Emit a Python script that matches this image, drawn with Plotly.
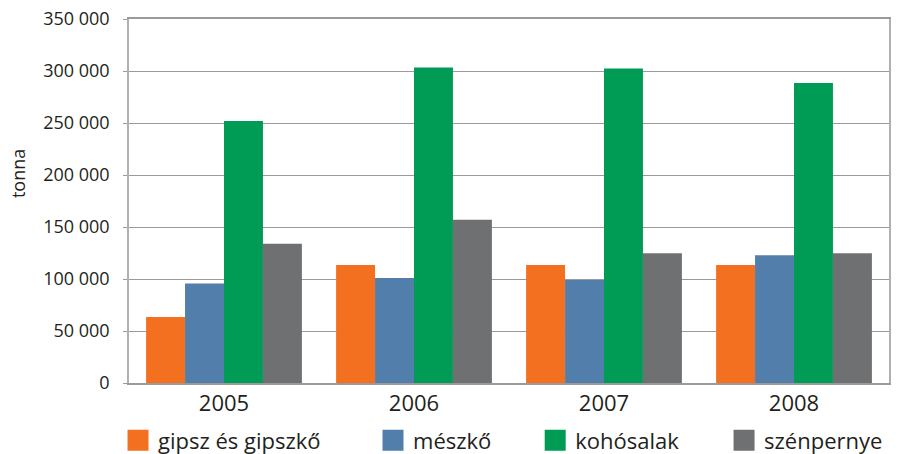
import plotly.graph_objects as go

# Annual quantities (tonnes) by material
years = ["2005", "2006", "2007", "2008"]
series_names = ["gipsz és gipszkő", "mészkő", "kohósalak", "szénpernye"]
gipsz = [63500, 113500, 113500, 113500]
meszko = [95600, 101000, 99000, 122900]
kohosalak = [252000, 303300, 302300, 288500]
szenpernye = [134000, 156900, 124800, 124800]

tick_vals = [0, 50000, 100000, 150000, 200000, 250000, 300000, 350000]
tick_text = ["0", "50 000", "100 000", "150 000", "200 000", "250 000", "300 000", "350 000"]

colors = ["#F37021", "#527EAC", "#009B55", "#6F7072"]
values = [gipsz, meszko, kohosalak, szenpernye]

FONT = "Open Sans"
TEXT = "#231f20"

fig = go.Figure()

for name, vals, col in zip(series_names, values, colors):
    fig.add_trace(go.Bar(
        x=years, y=vals, name=name, marker=dict(color=col, line=dict(width=0)),
        showlegend=False, legendgroup=name,
    ))

# Legend entries: one per legend box so each can be placed independently
legend_x = [0.131, 0.414, 0.594, 0.8036]
for i, (name, col) in enumerate(zip(series_names, colors)):
    lg = "legend" if i == 0 else f"legend{i + 1}"
    fig.add_trace(go.Scatter(
        x=[None], y=[None], mode="markers", name=name, legendgroup=name,
        marker=dict(symbol="square", size=16, color=col, line=dict(color=col, width=5)),
        showlegend=True, legend=lg,
    ))

legend_common = dict(
    orientation="h", xref="container", yref="container",
    yanchor="middle", y=0.030, xanchor="left",
    font=dict(family=FONT, size=22, color=TEXT), bgcolor="rgba(0,0,0,0)",
    borderwidth=0, itemclick=False, itemdoubleclick=False,
)

layout_legends = {}
for i, lx in enumerate(legend_x):
    key = "legend" if i == 0 else f"legend{i + 1}"
    layout_legends[key] = dict(legend_common, x=lx)

fig.update_layout(
    width=901, height=454,
    margin=dict(l=129, r=12, t=19, b=71, autoexpand=False),
    paper_bgcolor="white", plot_bgcolor="white",
    barmode="group", bargap=0.18, bargroupgap=0,
    font=dict(family=FONT, color=TEXT),
    **layout_legends,
)

fig.update_xaxes(
    type="category",
    tickfont=dict(family=FONT, size=22, color=TEXT),
    showline=True, linecolor="#9a9a9a", linewidth=2, mirror=True,
    ticks="", showgrid=False,
)

fig.update_yaxes(
    range=[0, 350000], tickvals=tick_vals, ticktext=tick_text,
    tickfont=dict(family=FONT, size=18, color=TEXT),
    showgrid=True, gridcolor="#9a9a9a", gridwidth=1.3,
    showline=True, linecolor="#b0b0b0", linewidth=1.5, mirror=True,
    ticks="outside", ticklen=4, tickcolor="#9a9a9a", ticklabelstandoff=10,
    zeroline=False,
)

fig.add_annotation(
    text="tonna", textangle=-90, xref="paper", yref="paper",
    x=-0.146, y=0.574, xanchor="center", yanchor="middle", showarrow=False,
    font=dict(family=FONT, size=18, color=TEXT),
)

fig.write_html("out.html")
